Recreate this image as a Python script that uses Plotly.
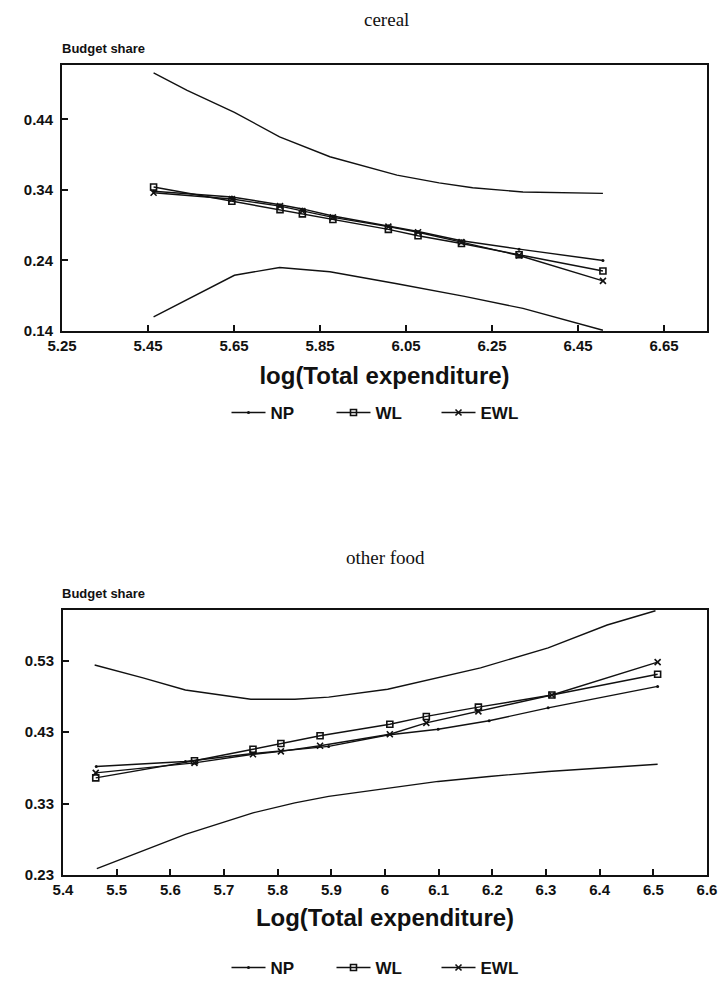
import plotly.graph_objects as go

W, H = 723, 982

# ---------------- cereal (top panel) ----------------
cer_np_up_x = [5.463, 5.541, 5.651, 5.756, 5.873, 6.029, 6.127, 6.205, 6.322, 6.508]
cer_np_up_y = [0.506, 0.481, 0.450, 0.415, 0.387, 0.361, 0.350, 0.343, 0.337, 0.335]
cer_np_lo_x = [5.463, 5.651, 5.756, 5.873, 6.029, 6.186, 6.322, 6.445, 6.508]
cer_np_lo_y = [0.160, 0.219, 0.230, 0.224, 0.207, 0.189, 0.172, 0.151, 0.141]
cer_x = [5.463, 5.645, 5.757, 5.809, 5.880, 6.009, 6.078, 6.179, 6.313, 6.508]
cer_np = [0.338, 0.330, 0.319, 0.313, 0.303, 0.289, 0.281, 0.268, 0.256, 0.240]
cer_wl = [0.344, 0.324, 0.312, 0.306, 0.298, 0.284, 0.275, 0.264, 0.248, 0.225]
cer_ewl = [0.336, 0.327, 0.317, 0.310, 0.301, 0.288, 0.280, 0.266, 0.247, 0.211]
cer_xticks = [5.25, 5.45, 5.65, 5.85, 6.05, 6.25, 6.45, 6.65]
cer_yticks = [0.14, 0.24, 0.34, 0.44]

# ---------------- other food (bottom panel) ----------------
of_np_up_x = [5.459, 5.549, 5.628, 5.750, 5.832, 5.895, 6.005, 6.099, 6.178, 6.304, 6.414, 6.504]
of_np_up_y = [0.524, 0.506, 0.489, 0.476, 0.476, 0.479, 0.490, 0.506, 0.520, 0.548, 0.580, 0.600]
of_np_lo_x = [5.463, 5.549, 5.628, 5.754, 5.832, 5.895, 6.005, 6.099, 6.194, 6.304, 6.508]
of_np_lo_y = [0.239, 0.264, 0.287, 0.317, 0.331, 0.340, 0.351, 0.361, 0.368, 0.375, 0.385]
of_np_x = [5.462, 5.628, 5.754, 5.895, 6.005, 6.099, 6.194, 6.304, 6.508]
of_np = [0.382, 0.389, 0.400, 0.410, 0.426, 0.434, 0.446, 0.464, 0.494]
of_x = [5.461, 5.645, 5.754, 5.806, 5.879, 6.009, 6.077, 6.174, 6.311, 6.508]
of_wl = [0.366, 0.390, 0.406, 0.414, 0.425, 0.441, 0.452, 0.465, 0.482, 0.511]
of_ewl = [0.373, 0.387, 0.399, 0.403, 0.411, 0.427, 0.443, 0.459, 0.482, 0.528]
of_xticks = [5.4, 5.5, 5.6, 5.7, 5.8, 5.9, 6.0, 6.1, 6.2, 6.3, 6.4, 6.5, 6.6]
of_xticktext = ["5.4", "5.5", "5.6", "5.7", "5.8", "5.9", "6", "6.1", "6.2", "6.3", "6.4", "6.5", "6.6"]
of_yticks = [0.23, 0.33, 0.43, 0.53]

BLACK = "#111111"
LW = 1.4
SANS = "Liberation Sans, Arial, sans-serif"
SERIF = "Liberation Serif, DejaVu Serif, serif"

fig = go.Figure()


def add_panel(xa, ya, legend, up_x, up_y, lo_x, lo_y, np_x, np_y, wl_x, wl_y, ewl_x, ewl_y):
    common = dict(xaxis=xa, yaxis=ya, legend=legend)
    fig.add_trace(go.Scatter(x=up_x, y=up_y, mode="lines", line=dict(color=BLACK, width=LW),
                             showlegend=False, **common))
    fig.add_trace(go.Scatter(x=lo_x, y=lo_y, mode="lines", line=dict(color=BLACK, width=LW),
                             showlegend=False, **common))
    fig.add_trace(go.Scatter(x=np_x, y=np_y, mode="lines+markers", name="NP",
                             line=dict(color=BLACK, width=LW),
                             marker=dict(symbol="circle", size=3, color=BLACK), **common))
    fig.add_trace(go.Scatter(x=wl_x, y=wl_y, mode="lines+markers", name="WL",
                             line=dict(color=BLACK, width=LW),
                             marker=dict(symbol="square-open", size=6, color=BLACK,
                                         line=dict(width=1.6, color=BLACK)), **common))
    fig.add_trace(go.Scatter(x=ewl_x, y=ewl_y, mode="lines+markers", name="EWL",
                             line=dict(color=BLACK, width=LW),
                             marker=dict(symbol="x-thin-open", size=6, color=BLACK,
                                         line=dict(width=1.6, color=BLACK)), **common))


add_panel("x", "y", "legend", cer_np_up_x, cer_np_up_y, cer_np_lo_x, cer_np_lo_y,
          cer_x, cer_np, cer_x, cer_wl, cer_x, cer_ewl)
add_panel("x2", "y2", "legend2", of_np_up_x, of_np_up_y, of_np_lo_x, of_np_lo_y,
          of_np_x, of_np, of_x, of_wl, of_x, of_ewl)


def px_x(p):
    return p / W


def px_y(p):
    return 1 - p / H


tickfont = dict(family=SANS, size=15, color=BLACK, weight="bold")
titlefont = dict(family=SANS, size=24, color=BLACK, weight="bold")
axis_common = dict(showline=True, linecolor=BLACK, linewidth=2, mirror=True, ticks="inside",
                   ticklen=6, tickcolor=BLACK, tickwidth=1.5, showgrid=False, zeroline=False,
                   tickfont=tickfont, automargin=False)
legfont = dict(family=SANS, size=17, color=BLACK, weight="bold")

fig.update_layout(
    width=W, height=H,
    margin=dict(l=0, r=0, t=0, b=0, autoexpand=False),
    paper_bgcolor="white", plot_bgcolor="white",
    xaxis=dict(domain=[px_x(62), px_x(707)], anchor="y", range=[5.25, 6.75],
               tickvals=cer_xticks, tickformat=".2f",
               title=dict(text="log(Total expenditure)", font=titlefont, standoff=14),
               **axis_common),
    yaxis=dict(domain=[px_y(331), px_y(65)], anchor="x", range=[0.14, 0.517],
               tickvals=cer_yticks, tickformat=".2f", ticklabelstandoff=4, **axis_common),
    xaxis2=dict(domain=[px_x(63), px_x(707)], anchor="y2", range=[5.4, 6.6],
                tickvals=of_xticks, ticktext=of_xticktext,
                title=dict(text="Log(Total expenditure)", font=titlefont, standoff=12),
                **axis_common),
    yaxis2=dict(domain=[px_y(875), px_y(610)], anchor="x2", range=[0.23, 0.601],
                tickvals=of_yticks, tickformat=".2f", ticklabelstandoff=4, **axis_common),
    legend=dict(orientation="h", x=px_x(384), xanchor="center", y=px_y(413), yanchor="middle",
                font=legfont, bgcolor="rgba(0,0,0,0)", itemwidth=34,
                entrywidth=56, entrywidthmode="pixels"),
    legend2=dict(orientation="h", x=px_x(384), xanchor="center", y=px_y(968), yanchor="middle",
                 font=legfont, bgcolor="rgba(0,0,0,0)", itemwidth=34,
                 entrywidth=56, entrywidthmode="pixels"),
    annotations=[
        dict(text="cereal", x=px_x(386), y=px_y(19), xref="paper", yref="paper",
             showarrow=False, xanchor="center", yanchor="middle",
             font=dict(family=SERIF, size=19, color=BLACK)),
        dict(text="other food", x=px_x(385), y=px_y(557), xref="paper", yref="paper",
             showarrow=False, xanchor="center", yanchor="middle",
             font=dict(family=SERIF, size=19, color=BLACK)),
        dict(text="Budget share", x=px_x(60), y=px_y(48), xref="paper", yref="paper",
             showarrow=False, xanchor="left", yanchor="middle",
             font=dict(family=SANS, size=13, color=BLACK, weight="bold")),
        dict(text="Budget share", x=px_x(60), y=px_y(593), xref="paper", yref="paper",
             showarrow=False, xanchor="left", yanchor="middle",
             font=dict(family=SANS, size=13, color=BLACK, weight="bold")),
    ],
)

# remove the default 8px page margin so the 723x982 figure fills the window exactly
fig.write_html("out.html", config={"displayModeBar": False},
               post_script="document.body.style.margin='0';document.body.style.overflow='hidden';")
